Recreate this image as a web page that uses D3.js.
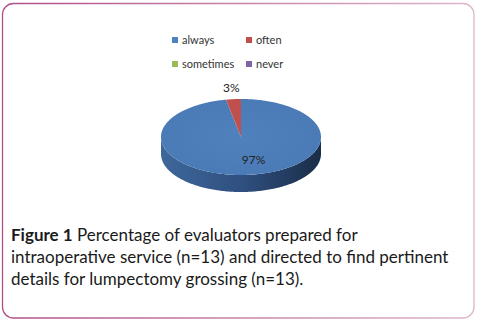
<!DOCTYPE html>
<html><head><meta charset="utf-8">
<script src="https://cdn.jsdelivr.net/npm/d3@7"></script>
<style>body{margin:0;background:#fff}svg{display:block}</style>
</head><body>
<svg id="c" width="481" height="325"></svg>
<script>
const categories = ["always", "often", "sometimes", "never"];
const values = [97, 3, 0, 0];
const colors = ["#4f81bd", "#c0504d", "#9bbb59", "#8064a2"];
const labels = ["97%", "3%", "", ""];
const captionBold = "Figure 1";
const captionLines = [" Percentage of evaluators prepared for", "intraoperative service (n=13) and directed to find pertinent", "details for lumpectomy grossing (n=13)."];

const svg = d3.select("#c");
const defs = svg.append("defs");
const bg = defs.append("linearGradient").attr("id","bord").attr("x1","0").attr("x2","1").attr("y1","0").attr("y2","0");
bg.append("stop").attr("offset","0").attr("stop-color","#b14f88");
bg.append("stop").attr("offset","1").attr("stop-color","#ddb6cd");
svg.append("rect").attr("x",2.5).attr("y",3.5).attr("width",471.5).attr("height",314.5).attr("rx",11)
  .attr("fill","#fff").attr("stroke","url(#bord)").attr("stroke-width",1.3);

// legend
const legPos = [[172,37],[246,37],[172,61],[246,61]];
const leg = svg.append("g").attr("font-family","Lato, 'Open Sans', sans-serif").attr("font-size",11).attr("fill","#333");
categories.forEach((c,i)=>{
  leg.append("rect").attr("x",legPos[i][0]).attr("y",legPos[i][1]).attr("width",6).attr("height",6).attr("fill",colors[i]);
  leg.append("text").attr("x",legPos[i][0]+10).attr("y",legPos[i][1]+7).text(c);
});

// 3D pie
const cx = 241, cy = 137, rx = 80, ry = 38, depth = 17;
const pie = d3.pie().sort(null).value(d=>d)(values);
const proj = (a, r=1, dy=0) => [cx + rx*r*Math.sin(a), cy - ry*r*Math.cos(a) + dy];
const line = d3.line();
const sample = (a0,a1,dy) => { const n = Math.max(2, Math.ceil((a1-a0)/0.02)); return d3.range(n+1).map(k=>proj(a0+(a1-a0)*k/n,1,dy)); };

const sg = defs.append("linearGradient").attr("id","side").attr("x1","0").attr("x2","1").attr("y1","0").attr("y2","0");
sg.append("stop").attr("offset","0").attr("stop-color","#3f679a");
sg.append("stop").attr("offset","0.5").attr("stop-color","#2f5080");
sg.append("stop").attr("offset","1").attr("stop-color","#1b2d48");
const tg = defs.append("radialGradient").attr("id","top").attr("cx","0.5").attr("cy","0.5").attr("r","0.6");
tg.append("stop").attr("offset","0").attr("stop-color","#4f81bd");
tg.append("stop").attr("offset","1").attr("stop-color","#4a7ab5");

// sides (front half: angles PI/2..3PI/2)
pie.forEach((p,i)=>{
  if (p.value<=0) return;
  const a0 = Math.max(p.startAngle, Math.PI/2), a1 = Math.min(p.endAngle, 3*Math.PI/2);
  if (a1<=a0) return;
  const top = sample(a0,a1,0), bot = sample(a0,a1,depth).reverse();
  svg.append("path").attr("d", line(top.concat(bot))+"Z").attr("fill", i===0?"url(#side)":d3.color(colors[i]).darker(1));
});
// tops
pie.forEach((p,i)=>{
  if (p.value<=0) return;
  const pts = [[cx,cy]].concat(sample(p.startAngle,p.endAngle,0));
  svg.append("path").attr("d", line(pts)+"Z").attr("fill", i===0?"url(#top)":colors[i]);
});

// labels
const lab = svg.append("g").attr("font-family","Lato, 'Open Sans', sans-serif").attr("font-size",12).attr("fill","#222").attr("text-anchor","middle");
pie.forEach((p,i)=>{
  if (p.value<=0) return;
  const m = (p.startAngle+p.endAngle)/2;
  const inside = p.value > 10;
  const pt = proj(m, inside?0.6:1.3);
  lab.append("text").attr("x", pt[0] + (inside?8:0)).attr("y", pt[1]+4).text(labels[i]);
});

// caption
const cap = svg.append("g").attr("font-family","Lato, 'Open Sans', sans-serif").attr("font-size",17).attr("fill","#1a1a1a");
const t1 = cap.append("text").attr("x",11).attr("y",241);
t1.append("tspan").attr("font-weight","bold").text(captionBold);
t1.append("tspan").text(captionLines[0]);
cap.append("text").attr("x",11).attr("y",263).text(captionLines[1]);
cap.append("text").attr("x",11).attr("y",285).text(captionLines[2]);
</script>
</body></html>
